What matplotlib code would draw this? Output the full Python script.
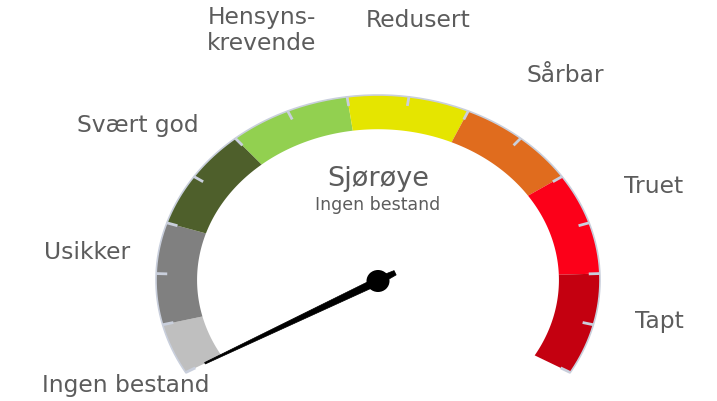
import numpy as np
import matplotlib

matplotlib.use("Agg")
import matplotlib.pyplot as plt
from matplotlib.patches import Polygon, Ellipse

# data
categories = ["Ingen bestand", "Usikker", "Svært god", "Hensyns-\nkrevende",
              "Redusert", "Sårbar", "Truet", "Tapt"]
band_edges = [0, 1, 3, 5, 7, 9, 11, 13, 15]
band_colors = ["#bfbfbf", "#808080", "#4e5f2b", "#92d050",
               "#e5e500", "#e06c1e", "#fc0019", "#c40010"]
value = 0
species = "Sjørøye"
status = "Ingen bestand"

# layout (pixel space of the 717x401 picture)
CX, CY = 378, 280
RX, RY = 222, 185
R_IN = 0.815
A_START, A_END = 210.0, -30.0
V_MIN, V_MAX = band_edges[0], band_edges[-1]
TEXT = "#5c5c5c"
TICK = "#c9cfdc"
label_pos = [(126, 392), (87, 259), (138, 132), (262, 50),
             (418, 27), (565, 82), (654, 193), (659, 328)]


def angle(v):
    return np.radians(A_START + (v - V_MIN) / (V_MAX - V_MIN) * (A_END - A_START))


def pt(a, r):
    return CX + r * RX * np.cos(a), CY - r * RY * np.sin(a)


fig = plt.figure(figsize=(7.17, 4.01), dpi=100)
ax = fig.add_axes([0, 0, 1, 1])
ax.set_xlim(0, 717)
ax.set_ylim(401, 0)
ax.axis("off")

# bands
for lo, hi, col in zip(band_edges[:-1], band_edges[1:], band_colors):
    a = np.linspace(angle(lo), angle(hi), 60)
    ox, oy = pt(a, 1.0)
    ix, iy = pt(a[::-1], R_IN)
    ax.add_patch(Polygon(np.column_stack([np.r_[ox, ix], np.r_[oy, iy]]),
                         closed=True, facecolor=col, edgecolor="none", zorder=2))

# faint outline along outer edge
a = np.linspace(angle(V_MIN), angle(V_MAX), 300)
ox, oy = pt(a, 1.0)
ax.plot(ox, oy, color=TICK, lw=1.2, zorder=3)

# ticks every unit
for v in range(V_MIN, V_MAX + 1):
    x0, y0 = pt(angle(v), 1.0)
    x1, y1 = pt(angle(v), 0.95)
    ax.plot([x0, x1], [y0, y1], color=TICK, lw=2, solid_capstyle="butt", zorder=4)

# labels
for name, (x, y) in zip(categories, label_pos):
    ax.text(x, y, name, ha="center", va="baseline", fontsize=16.8, color=TEXT,
            linespacing=1.15, zorder=5)

ax.text(378, 186, species, ha="center", va="baseline", fontsize=19.5, color=TEXT)
ax.text(378, 210, status, ha="center", va="baseline", fontsize=12.5, color=TEXT)

# needle
tx, ty = pt(angle(value), 0.9)
d = np.array([tx - CX, ty - CY])
d /= np.hypot(*d)
n = np.array([-d[1], d[0]])
c = np.array([CX, CY + 1.0])
tip = np.array([tx, ty])
rear = c - d * 19
needle = [tip + n * 0.8, c + n * 3.8, rear + n * 2.4,
          rear - n * 2.4, c - n * 3.8, tip - n * 0.8]
ax.add_patch(Polygon(needle, closed=True, facecolor="black", edgecolor="black",
                     lw=0.5, zorder=6))
ax.add_patch(Ellipse((CX, CY + 1), 23, 22, facecolor="black", zorder=7))

fig.savefig("out.png", dpi=100)
